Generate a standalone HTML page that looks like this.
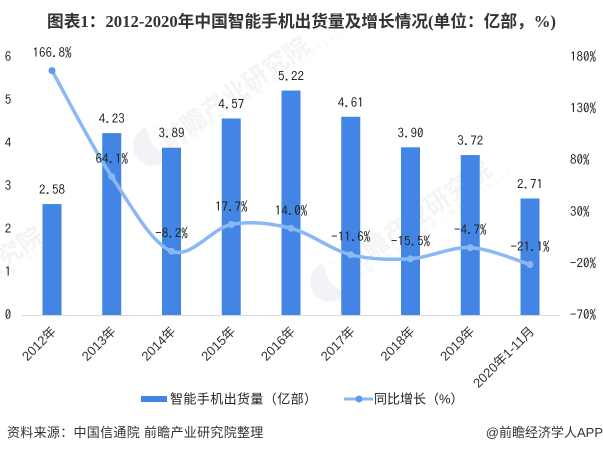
<!DOCTYPE html>
<html lang="zh-CN">
<head>
<meta charset="utf-8">
<title>2012-2020年中国智能手机出货量及增长情况</title>
<style>
html,body{margin:0;padding:0;background:#fff;}
body{width:603px;height:453px;overflow:hidden;}
svg{display:block;}
text{font-family:"Liberation Sans","Noto Sans CJK SC",sans-serif;}
.mono{font-family:"IPAGothic","Liberation Mono",monospace;font-size:13px;fill:#222;}
</style>
</head>
<body>
<svg id="chart" width="603" height="453" viewBox="0 0 603 453" xmlns="http://www.w3.org/2000/svg">
  <rect x="0" y="0" width="603" height="453" fill="#ffffff"/>
  <g id="watermarks" fill="#f3f4f6">
    <g>
      <circle cx="153" cy="146" r="20" fill="#f1f3f6"/>
      <path d="M153,146 L145,126 L166,128 L170,160 Z" fill="#ffffff"/>
      <text transform="translate(168,150) rotate(-35)" font-size="25" font-weight="bold" style="font-family:'Noto Sans CJK SC',sans-serif">前瞻产业研究院</text>
      <text transform="translate(184,146) rotate(-35)" font-size="8" letter-spacing="3" style="font-family:'Noto Sans CJK SC',sans-serif">中国产业咨询领导者（股票：839599）</text>
    </g>
    <g>
      <circle cx="330" cy="282" r="20" fill="#f1f3f6"/>
      <path d="M330,282 L322,262 L343,264 L347,296 Z" fill="#ffffff"/>
      <text transform="translate(350,274) rotate(-35)" font-size="25" font-weight="bold" style="font-family:'Noto Sans CJK SC',sans-serif">前瞻产业研究院</text>
      <text transform="translate(360,280) rotate(-35)" font-size="8" letter-spacing="3" style="font-family:'Noto Sans CJK SC',sans-serif">中国产业咨询领导者（股票：839599）</text>
    </g>
    <g>
      <text transform="translate(-98,340) rotate(-35)" font-size="25" font-weight="bold" style="font-family:'Noto Sans CJK SC',sans-serif">前瞻产业研究院</text>
      <text transform="translate(-88,344) rotate(-35)" font-size="8" letter-spacing="3" style="font-family:'Noto Sans CJK SC',sans-serif">中国产业咨询领导者（股票：839599）</text>
    </g>
  </g>
  <text x="301.5" y="27" text-anchor="middle" font-size="16.7" font-weight="bold" fill="#333333" style="font-family:'Liberation Serif','Noto Sans CJK SC',sans-serif">图表1：2012-2020年中国智能手机出货量及增长情况(单位：亿部，%)</text>
  <line x1="22" y1="315.5" x2="560" y2="315.5" stroke="#d9d9d9" stroke-width="1"/>
  <g id="bars"></g>
  <g id="bar-labels"></g>
  <path id="growth-line" fill="none" stroke="#8ab8f5" stroke-width="3.5" stroke-linecap="round"/>
  <g id="points"></g>
  <g id="point-labels"></g>
  <g id="left-ticks"></g>
  <g id="right-ticks"></g>
  <g id="x-ticks"></g>
  <g>
    <g>
      <rect x="141" y="396" width="26" height="6" fill="#4285e4"/>
      <text x="170" y="403.5" font-size="13" letter-spacing="0.4" fill="#222">智能手机出货量（亿部）</text>
    </g>
    <g>
      <line x1="344" y1="399" x2="373" y2="399" stroke="#8ab8f5" stroke-width="3"/>
      <circle cx="359" cy="399" r="3.5" fill="#5f9bea"/>
      <text x="374" y="403.5" font-size="13" fill="#222">同比增长（%）</text>
    </g>
  </g>
  <text x="7" y="437" font-size="13" letter-spacing="0.3" fill="#333">资料来源：中国信通院 前瞻产业研究院整理</text>
  <text x="603" y="437" text-anchor="end" font-size="13" fill="#333">@前瞻经济学人APP</text>
</svg>
<script>
const categories = ['2012年','2013年','2014年','2015年','2016年','2017年','2018年','2019年','2020年1-11月'];
const shipments = [2.58,4.23,3.89,4.57,5.22,4.61,3.90,3.72,2.71];
const growth = [166.8,64.1,-8.2,17.7,14.0,-11.6,-15.5,-4.7,-21.1];
const leftTicks = [0,1,2,3,4,5,6];
const rightTicks = [-70,-20,30,80,130,180];

const NS = 'http://www.w3.org/2000/svg';
function xPos(i){ return 52 + i * 59.75; }
function yLeft(v){ return 315 - (v / 6) * 258; }
function yRight(v){ return 315 - ((v + 70) / 250) * 258; }
function make(tag, attrs, parent, content){
  const el = document.createElementNS(NS, tag);
  for (const k in attrs) el.setAttribute(k, attrs[k]);
  if (content !== undefined) el.textContent = content;
  parent.appendChild(el);
  return el;
}
const barsG = document.getElementById('bars');
const barLabelsG = document.getElementById('bar-labels');
const pointsG = document.getElementById('points');
const pointLabelsG = document.getElementById('point-labels');
const leftG = document.getElementById('left-ticks');
const rightG = document.getElementById('right-ticks');
const xG = document.getElementById('x-ticks');

shipments.forEach(function(v, i){
  const top = yLeft(v);
  const bar = make('rect', {x: xPos(i) - 9.5, y: top, width: 19, height: 315 - top, fill: '#4285e4'}, barsG);
  
  
  const label = make('text', {x: xPos(i), y: top - 10, 'text-anchor': 'middle', class: 'mono'}, barLabelsG, v.toFixed(2));
  
  
});

const pts = growth.map(function(v, i){ return [xPos(i), yRight(v)]; });
let d = 'M' + pts[0][0] + ',' + pts[0][1];
for (let i = 0; i < pts.length - 1; i++){
  const p0 = pts[Math.max(i - 1, 0)], p1 = pts[i], p2 = pts[i + 1], p3 = pts[Math.min(i + 2, pts.length - 1)];
  d += ' C' + (p1[0] + (p2[0] - p0[0]) / 6) + ',' + (p1[1] + (p2[1] - p0[1]) / 6) + ' ' +
       (p2[0] - (p3[0] - p1[0]) / 6) + ',' + (p2[1] - (p3[1] - p1[1]) / 6) + ' ' + p2[0] + ',' + p2[1];
}
document.getElementById('growth-line').setAttribute('d', d);

growth.forEach(function(v, i){
  const p = make('circle', {cx: pts[i][0], cy: pts[i][1], r: 3.5, fill: i === 0 ? '#5f9bea' : '#8ab8f5'}, pointsG);
  
  
  const text = (v < 0 ? '−' + Math.abs(v).toFixed(1) : v.toFixed(1)) + '%';
  const label = make('text', {x: pts[i][0], y: pts[i][1] - 13.5, 'text-anchor': 'middle', class: 'mono'}, pointLabelsG, text);
  
  
});

leftTicks.forEach(function(v){
  const t = make('text', {x: 8, y: yLeft(v) + 4, 'text-anchor': 'middle', class: 'mono'}, leftG, String(v));
  
  
});
rightTicks.forEach(function(v){
  const t = make('text', {x: 570, y: yRight(v) + 4, class: 'mono'}, rightG, (v < 0 ? '−' + Math.abs(v) : v) + '%');
  
  
});
categories.forEach(function(c, i){
  const x = xPos(i) + 5;
  const t = make('text', {transform: 'translate(' + x + ',332) rotate(-45)', 'text-anchor': 'end', 'font-size': 13, fill: '#333'}, xG, c);
  
  
});
</script>
</body>
</html>
